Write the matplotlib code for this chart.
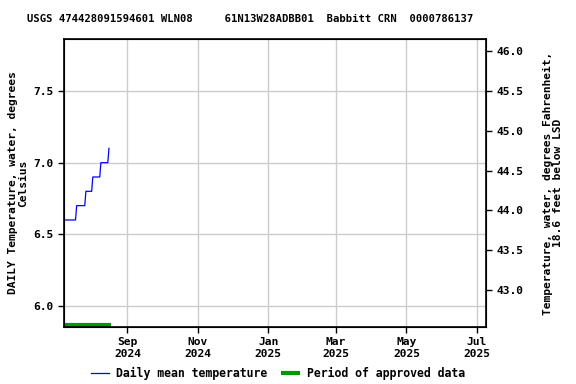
import matplotlib
matplotlib.use("Agg")
import matplotlib.pyplot as plt
import matplotlib.dates as mdates
import matplotlib.transforms as mtransforms
import numpy as np
import pandas as pd

title = "USGS 474428091594601 WLN08     61N13W28ADBB01  Babbitt CRN  0000786137"
start_date = "2024-07-08"
temps_c = [6.6]*11 + [6.7]*8 + [6.8]*6 + [6.9]*7 + [7.0]*7 + [7.1]
approved_start = "2024-07-08"
approved_end = "2024-08-18"
xlim_dates = ["2024-07-08", "2025-07-09"]
tick_dates = ["2024-09-01", "2024-11-01", "2025-01-01", "2025-03-01", "2025-05-01", "2025-07-01"]
tick_labels = ["Sep\n2024", "Nov\n2024", "Jan\n2025", "Mar\n2025", "May\n2025", "Jul\n2025"]
left_ticks = [6.0, 6.5, 7.0, 7.5]
right_ticks = [43.0, 43.5, 44.0, 44.5, 45.0, 45.5, 46.0]
ylim_c = (5.853, 7.863)

dates = pd.date_range(start_date, periods=len(temps_c), freq="D")

FS = 8.1
plt.rcParams["font.family"] = "DejaVu Sans Mono"
plt.rcParams["font.weight"] = "bold"
plt.rcParams["font.size"] = FS

fig = plt.figure(figsize=(5.76, 3.84), dpi=100)
ax = fig.add_axes([64/576, 1-327/384, (486-64)/576, (327-39)/384])

ax.plot(dates, temps_c, color="#0000ff", lw=0.9, label="Daily mean temperature")
trans = mtransforms.blended_transform_factory(ax.transData, ax.transAxes)
ax.plot([pd.Timestamp(approved_start), pd.Timestamp(approved_end)], [0.006, 0.006],
        color="#009900", lw=3, transform=trans, solid_capstyle="butt",
        label="Period of approved data", clip_on=False)

ax.set_xlim(pd.Timestamp(xlim_dates[0]), pd.Timestamp(xlim_dates[1]))
ax.set_ylim(*ylim_c)
ax.set_xticks([pd.Timestamp(d) for d in tick_dates])
ax.set_xticklabels(tick_labels, fontsize=FS)
ax.set_yticks(left_ticks)
ax.set_yticklabels([f"{v:.1f}" for v in left_ticks], fontsize=FS)
ax.grid(True, color="#cccccc", lw=1)
ax.set_axisbelow(True)
ax.tick_params(direction="out", length=4, width=1)
for s in ax.spines.values():
    s.set_linewidth(1.2)

ax2 = ax.twinx()
ax2.set_ylim(ylim_c[0]*1.8+32, ylim_c[1]*1.8+32)
ax2.set_yticks(right_ticks)
ax2.set_yticklabels([f"{v:.1f}" for v in right_ticks], fontsize=FS)
ax2.tick_params(direction="out", length=4, width=1)

ax.set_ylabel("DAILY Temperature, water, degrees\nCelsius", fontsize=FS, fontweight="bold",
              linespacing=1.0, labelpad=4)
ax2.set_ylabel("Temperature, water, degrees Fahrenheit,\n18.6 feet below LSD", fontsize=FS,
               fontweight="bold", linespacing=1.0, rotation=90, labelpad=14)

fig.text(27/576, 1-19/384, title, ha="left", va="center", fontsize=7.6, fontweight="bold")

h1, l1 = ax.get_legend_handles_labels()
fig.legend(h1, l1, loc="center", bbox_to_anchor=(278/576, 1-373/384), ncol=2, frameon=False,
           handlelength=1.6, handletextpad=0.6, columnspacing=1.2, fontsize=8.3)

fig.savefig("out.png", dpi=100)
